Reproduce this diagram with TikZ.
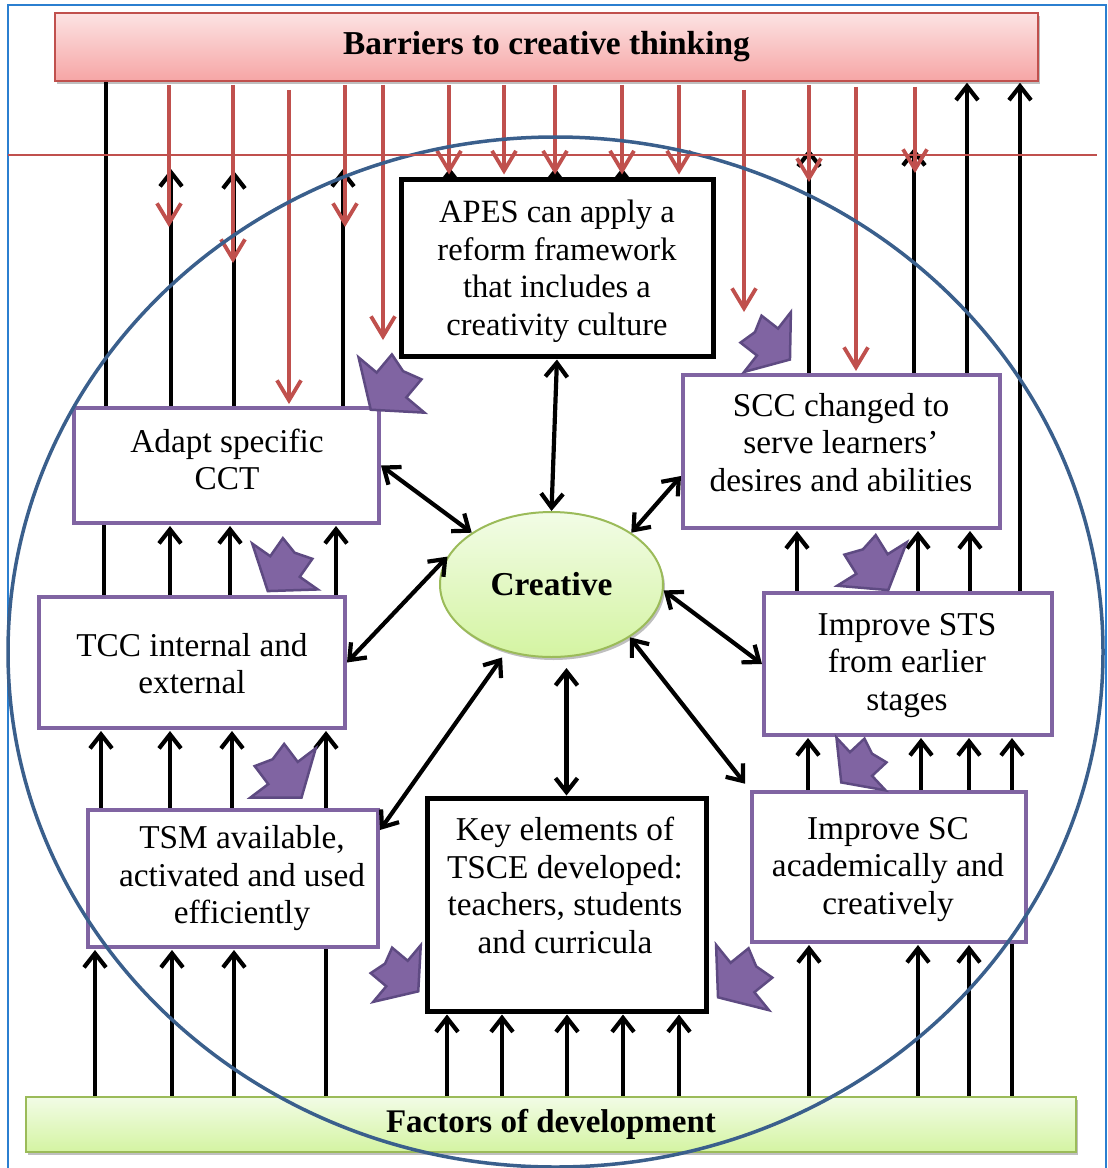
\documentclass[tikz,border=0pt]{standalone}
\usepackage{fontspec}
\setmainfont{Liberation Serif}
\usetikzlibrary{arrows.meta,shapes.geometric,shadows}

\definecolor{barRed}{HTML}{C0504D}
\definecolor{barTop}{HTML}{FCE3E3}
\definecolor{barBot}{HTML}{F6A5A5}
\definecolor{devLine}{HTML}{9BBB59}
\definecolor{devTop}{HTML}{F2FCE6}
\definecolor{devBot}{HTML}{D4F4A2}
\definecolor{stepPurple}{HTML}{8064A2}
\definecolor{stepPurpleDark}{HTML}{5E4A82}
\definecolor{ringBlue}{HTML}{3A5F8C}
\definecolor{frameBlue}{HTML}{2B7FD0}

\newcommand\boxfont{\fontsize{33.3}{37.5}\selectfont}
\newcommand\apesfont{\fontsize{32.5}{37.5}\selectfont}
\newcommand\headfont{\fontsize{33.4}{38}\selectfont\bfseries}
% block arrow: centre of the head base (x, y), direction angle, head half-width
\newcommand\blockarrow[4]{%
  \draw[blockarrowstyle, shift={(#1,#2)}, rotate=#3, scale=#4]
    (0.75,0) -- (0,1) -- (0,0.45) -- (-0.55,0.45) -- (-0.42,0)
    -- (-0.55,-0.45) -- (0,-0.45) -- (0,-1) -- cycle;}

\pgfdeclarelayer{bg}
\pgfdeclarelayer{lines}
\pgfsetlayers{bg,lines,main}

\begin{document}
\begin{tikzpicture}[x=1pt,y=-1pt,
  >={Straight Barb[length=14pt,width=22pt]},
  blkline/.style={line width=4.2pt, black},
  blkarrow/.style={blkline, ->, shorten >=1pt},
  dblarrow/.style={blkline, <->},
  redarrow/.style={barRed, line width=3.8pt,
    -{Straight Barb[length=20pt,width=24pt]}, shorten <=3pt},
  blackbox/.style={draw=black, line width=5pt, fill=white, inner sep=0pt},
  purplebox/.style={draw=stepPurple, line width=4pt, fill=white, inner sep=0pt},
  boxtext/.style={align=center, font=\boxfont, inner sep=0pt},
  blockarrowstyle/.style={fill=stepPurple, draw=stepPurpleDark, line width=2.5pt},
  softshadow/.style={drop shadow={shadow xshift=2pt, shadow yshift=-3pt,
    opacity=0.25, fill=black}},
]
\useasboundingbox (0,0) rectangle (1108,1168);

\begin{pgfonlayer}{bg}
  \fill[white] (0,0) rectangle (1108,1168);
  \draw[frameBlue, line width=1.2pt] (8,5) rectangle (1106,1190);
\end{pgfonlayer}

% ---------- banners ----------
\node[draw=barRed, line width=1.5pt, top color=barTop, bottom color=barBot,
      minimum width=983pt, minimum height=68pt, inner sep=0pt, font=\headfont,
      softshadow] (banner) at (546.5,47) {Barriers to creative thinking};
\node[draw=devLine, line width=1.5pt, top color=devTop, bottom color=devBot,
      minimum width=1050pt, minimum height=55pt, inner sep=0pt,
      font=\fontsize{33}{38}\selectfont\bfseries,
      softshadow] (factors) at (551,1124.5) {Factors of development};

% ---------- boxes ----------
\node[blackbox, minimum width=312pt, minimum height=177pt] (apes) at (557,267.5) {};
\node[boxtext, font=\apesfont] (apes-t) at (557,271)
  {APES can apply a\\reform framework\\that includes a\\creativity culture};

\node[purplebox, minimum width=305pt, minimum height=115pt] (adapt) at (226.5,465.5) {};
\node[boxtext] (adapt-t) at (227,459.5) {Adapt specific\\CCT};

\node[purplebox, minimum width=306pt, minimum height=131pt] (tcc) at (192,662.5) {};
\node[boxtext] (tcc-t) at (192,663.5) {TCC internal and\\external};

\node[purplebox, minimum width=290pt, minimum height=137pt] (tsm) at (233,878.5) {};
\node[boxtext] (tsm-t) at (242,878.5)
  {TSM available,\\activated and used\\efficiently};

\node[blackbox, minimum width=279pt, minimum height=213pt] (key) at (566.5,904.5) {};
\node[boxtext] (key-t) at (565,885.5)
  {Key elements of\\TSCE developed:\\teachers, students\\and curricula};

\node[purplebox, minimum width=317pt, minimum height=153pt] (scc) at (841.5,451.5) {};
\node[boxtext] (scc-t) at (841,442.5)
  {SCC changed to\\serve learners’\\desires and abilities};

\node[purplebox, minimum width=288pt, minimum height=142pt] (sts) at (908,664) {};
\node[boxtext] (sts-t) at (907,665.5) {Improve STS\\from earlier\\stages};

\node[purplebox, minimum width=274pt, minimum height=150pt] (sc) at (889,867) {};
\node[boxtext] (sc-t) at (888,869.5) {Improve SC\\academically and\\creatively};

\node[ellipse, draw=devLine, line width=2pt, top color=devTop, bottom color=devBot,
      minimum width=223pt, minimum height=145pt, inner sep=0pt, font=\headfont,
      softshadow] (creative) at (551.5,584.5) {Creative};

% ---------- free ends ----------
\coordinate (b2) at (171,168);
\coordinate (b3) at (234,170);
\coordinate (b4) at (343,168);
\coordinate (b5) at (450,167);
\coordinate (b6) at (555,167);
\coordinate (b7) at (622,167);
\coordinate (b8) at (809,148);
\coordinate (b9) at (914,147);
\coordinate (r1) at (169,227);
\coordinate (r2) at (233,263);
\coordinate (r4) at (345,227);
\coordinate (r5) at (383,340);
\coordinate (r11) at (744,312);
\coordinate (r12) at (809,182);
\coordinate (r14) at (915,173);
\coordinate (hl1) at (8,155);
\coordinate (hl2) at (1097,155);

% ---------- black vertical connectors ----------
\begin{pgfonlayer}{lines}
  % towards the barriers
  \draw[blkline] (106,0 |- banner.south) -- (106,0 |- adapt.north);
  \draw[blkarrow] (171,0 |- adapt.north) -- (b2);
  \draw[blkarrow] (234,0 |- adapt.north) -- (b3);
  \draw[blkarrow] (343,0 |- adapt.north) -- (b4);
  \draw[blkarrow] (450,0 |- apes.center) -- (b5);
  \draw[blkarrow] (555,0 |- apes.center) -- (b6);
  \draw[blkarrow] (622,0 |- apes.center) -- (b7);
  \draw[blkarrow] (809,0 |- scc.north) -- (b8);
  \draw[blkarrow] (914,0 |- scc.north) -- (b9);
  \draw[blkarrow] (967,0 |- scc.north) -- (967,0 |- banner.south);
  \draw[blkarrow] (1020,0 |- sts.north) -- (1020,0 |- banner.south);
  % left column
  \draw[blkline] (104,0 |- adapt.south) -- (104,0 |- tcc.north);
  \foreach \x in {170,230,336}
    \draw[blkarrow] (\x,0 |- tcc.north) -- (\x,0 |- adapt.south);
  \foreach \x in {101,170,232}
    \draw[blkarrow] (\x,0 |- tsm.north) -- (\x,0 |- tcc.south);
  \draw[blkarrow] (326,0 |- factors.north) -- (326,0 |- tcc.south);
  \foreach \x in {95,172,234}
    \draw[blkarrow] (\x,0 |- factors.north) -- (\x,0 |- tsm.south);
  % centre column
  \foreach \x in {447,502,567,623,679}
    \draw[blkarrow] (\x,0 |- factors.north) -- (\x,0 |- key.south);
  % right column
  \foreach \x in {809,918,969}
    \draw[blkarrow] (\x,0 |- factors.north) -- (\x,0 |- sc.south);
  \draw[blkarrow] (1012,0 |- factors.north) -- (1012,0 |- sts.south);
  \foreach \x in {808,921,969}
    \draw[blkarrow] (\x,0 |- sc.north) -- (\x,0 |- sts.south);
  \foreach \x in {797,918,970}
    \draw[blkarrow] (\x,0 |- sts.north) -- (\x,0 |- scc.south);
\end{pgfonlayer}

% ---------- links with the central node ----------
\draw[dblarrow, shorten <=1pt] (apes.south) -- (creative.north);
\draw[dblarrow] (adapt.east) -- (creative.147);
\draw[dblarrow] (scc.west |- 0,476) -- (creative.33);
\draw[dblarrow] (tcc.east) -- (creative.165);
\draw[dblarrow] (creative.-3) -- (sts.west);
\draw[dblarrow, shorten <=7pt] (creative.-124) -- (tsm.east |- 0,830);
\draw[dblarrow, shorten >=10pt] (key.north) -- (key.north |- creative.south);
\draw[dblarrow, shorten >=8pt] (creative.-34) -- (sc.north west);

% ---------- barriers (red) ----------
\draw[redarrow] (169,0 |- banner.south) -- (r1);
\draw[redarrow] (233,0 |- banner.south) -- (r2);
\draw[redarrow, shorten <=8pt, shorten >=2pt] (289,0 |- banner.south) -- (289,0 |- adapt.north);
\draw[redarrow] (345,0 |- banner.south) -- (r4);
\draw[redarrow] (383,0 |- banner.south) -- (r5);
\foreach \x in {449,504,555,622,679}
  \draw[redarrow, shorten >=2pt] (\x,0 |- banner.south) -- (\x,0 |- apes.north);
\draw[redarrow, shorten <=8pt] (744,0 |- banner.south) -- (r11);
\draw[redarrow] (809,0 |- banner.south) -- (r12);
\draw[redarrow, shorten <=5pt, shorten >=2pt] (856,0 |- banner.south) -- (856,0 |- scc.north);
\draw[redarrow, shorten <=5pt] (915,0 |- banner.south) -- (r14);

% ---------- surrounding ring and level line ----------
\draw[ringBlue, line width=3.5pt] (555.5,652) ellipse [x radius=547.5pt, y radius=515pt];
\draw[barRed, line width=1.3pt] (hl1) -- (hl2);

% ---------- purple block arrows ----------
\blockarrow{391.5}{385}{-130}{43}
\blockarrow{767.5}{342}{-38}{38}
\blockarrow{285}{566.5}{-125}{40}
\blockarrow{872}{564}{-58}{41}
\blockarrow{283}{773}{-53}{41}
\blockarrow{861}{764}{-137}{36}
\blockarrow{397}{973.5}{-40}{37}
\blockarrow{742.5}{977.5}{-141}{42}
\end{tikzpicture}
\end{document}
